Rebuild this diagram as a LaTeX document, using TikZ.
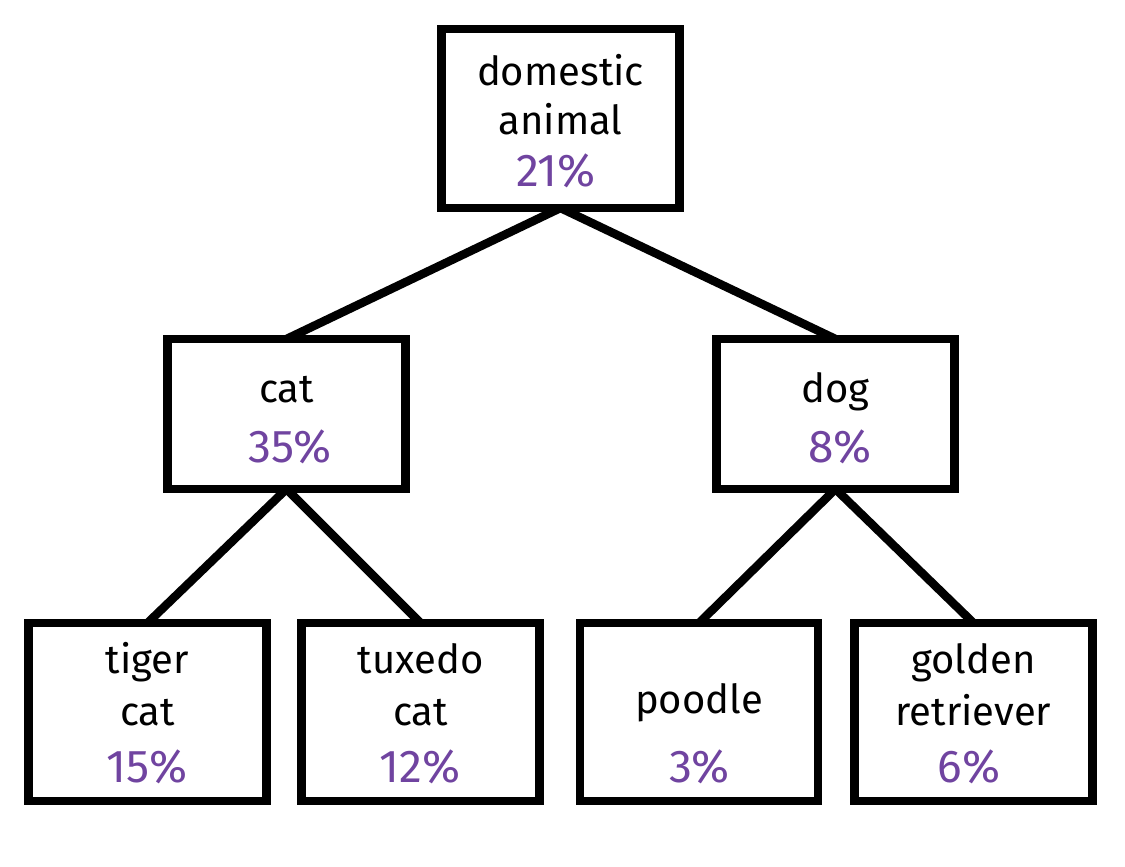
\documentclass[tikz,border=0pt]{standalone}
\usepackage{fontspec}
\setmainfont{Fira Sans}
\usepackage{xcolor}
\definecolor{sharepurple}{RGB}{112,68,160}

\begin{document}
\begin{tikzpicture}[x=1pt, y=-1pt,
    catbox/.style={rectangle, draw=black, line width=8.5pt, minimum width=238pt,
                   inner sep=0pt, outer sep=0pt},
    word/.style={anchor=base, inner sep=0pt, font=\fontsize{40}{48}\selectfont},
    share/.style={word, text=sharepurple, font=\fontsize{46}{54}\selectfont},
    link/.style={line width=8.5pt, black}]
    \useasboundingbox (0,0) rectangle (1125,867);
    % boxes
    \node[catbox, minimum height=179pt] (dom) at (560.5,118.5) {};
    \node[catbox, minimum height=150pt] (cat) at (286.5,414) {};
    \node[catbox, minimum height=150pt] (dog) at (835.5,414) {};
    \node[catbox, minimum height=178pt] (tiger) at (147.5,712) {};
    \node[catbox, minimum height=178pt] (tux) at (420.5,712) {};
    \node[catbox, minimum height=178pt] (pood) at (699,712) {};
    \node[catbox, minimum height=178pt] (gold) at (973.5,712) {};
    % texts
    \node[word] (dom-a) at (560.5,85) {domestic};
    \node[word] (dom-b) at (560.5,134) {animal};
    \node[share] (dom-p) at (556,186) {21\%};
    \node[word] (cat-a) at (286.5,402) {cat};
    \node[share] (cat-p) at (290,462) {35\%};
    \node[word] (dog-a) at (835.5,402) {dog};
    \node[share] (dog-p) at (840,462) {8\%};
    \node[word] (tiger-a) at (147.5,673) {tiger};
    \node[word] (tiger-b) at (147.5,725) {cat};
    \node[share] (tiger-p) at (147,782) {15\%};
    \node[word] (tux-a) at (420.5,673) {tuxedo};
    \node[word] (tux-b) at (420.5,725) {cat};
    \node[share] (tux-p) at (420,782) {12\%};
    \node[word] (pood-a) at (699,713) {poodle};
    \node[share] (pood-p) at (699.5,782) {3\%};
    \node[word] (gold-a) at (973.5,673) {golden};
    \node[word] (gold-b) at (973.5,725) {retriever};
    \node[share] (gold-p) at (969,782) {6\%};
    % tree
    \draw[link] (dom.south) -- (cat.north);
    \draw[link] (dom.south) -- (dog.north);
    \draw[link] (cat.south) -- (tiger.north);
    \draw[link] (cat.south) -- (tux.north);
    \draw[link] (dog.south) -- (pood.north);
    \draw[link] (dog.south) -- (gold.north);
\end{tikzpicture}
\end{document}
